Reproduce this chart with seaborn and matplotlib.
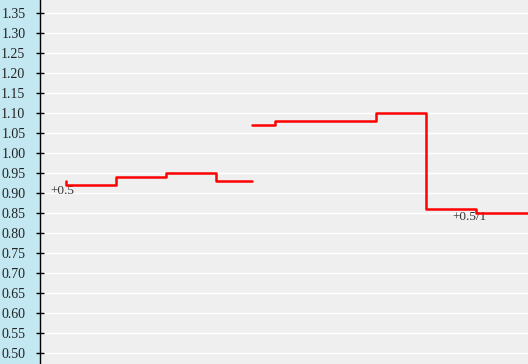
import numpy as np
import pandas as pd
import matplotlib
matplotlib.use("Agg")
import matplotlib.pyplot as plt
import seaborn as sns

# Data (x in time steps, y = odds)
seg1_x = [0.0, 1.0, 2.0, 3.0, 3.72]
seg1_y = [0.93, 0.92, 0.94, 0.95, 0.93]
seg2_x = [3.72, 4.18, 6.2, 7.2, 8.2, 9.4]
seg2_y = [1.07, 1.07, 1.08, 1.10, 0.86, 0.85]
labels = ["+0.5", "+0.5/1"]
label_x = [-0.31, 7.72]
label_y = [0.906, 0.840]
yticks = [round(0.50 + 0.05 * i, 2) for i in range(18)]

df = pd.DataFrame({
    "x": seg1_x + seg2_x,
    "y": seg1_y + seg2_y,
    "seg": ["a"] * len(seg1_x) + ["b"] * len(seg2_x),
})

sns.set_style("white")
plt.rcParams["font.family"] = ["Liberation Serif", "DejaVu Serif"]

fig = plt.figure(figsize=(5.28, 3.64), dpi=100)
fig.patch.set_facecolor("#c4e8f2")
ax = fig.add_axes([40 / 528, 0, 1 - 40 / 528, 1])
ax.set_facecolor("#efefef")

sns.lineplot(data=df, x="x", y="y", units="seg", estimator=None, sort=False,
             ax=ax, color="#ff0000", linewidth=1.8, drawstyle="steps-pre", zorder=3)

for t, tx, ty in zip(labels, label_x, label_y):
    ax.text(tx, ty, t, fontsize=9.5, color="#333333", va="center", ha="left", zorder=2)

ax.set_xlim(-0.52, 9.24)
ax.set_ylim(0.4725, 1.3825)
ax.set_yticks(yticks)
ax.set_yticklabels([f"{v:.2f}" for v in yticks])
ax.yaxis.grid(True, color="white", linewidth=1.0, zorder=1)
ax.xaxis.grid(False)
ax.set_axisbelow(True)
ax.set_xticks([])
ax.set_xlabel("")
ax.set_ylabel("")
for s in ["top", "right", "bottom"]:
    ax.spines[s].set_visible(False)
ax.spines["left"].set_color("black")
ax.spines["left"].set_linewidth(1.0)
ax.tick_params(axis="y", direction="inout", length=6, width=1, color="black",
               labelsize=10, labelcolor="#222222", pad=7.5, left=True)

fig.savefig("out.png", dpi=100, facecolor=fig.get_facecolor())
